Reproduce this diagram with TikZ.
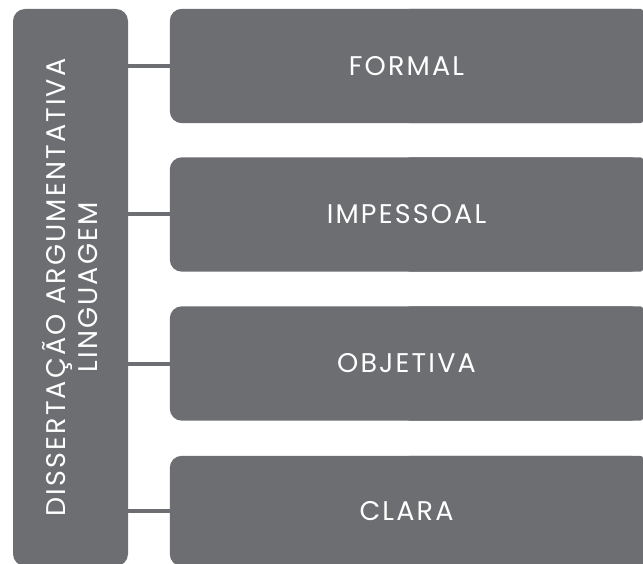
\documentclass[tikz,border=0pt]{standalone}
\usepackage{fontspec}
\setmainfont{Poppins}[LetterSpace=8]
\usepackage{tikz}
\usetikzlibrary{backgrounds}
\definecolor{boxgray}{HTML}{6D6E71}
\tikzstyle{lbox} = [fill=boxgray, rounded corners=12pt, inner sep=0pt, text=white, align=center, font=\fontsize{27}{32}\selectfont]
\tikzstyle{rbox} = [minimum width=473pt, inner sep=0pt, text=white, font=\fontsize{27}{32}\selectfont]
\tikzstyle{conn} = [boxgray, line width=4pt]

\begin{document}
\begin{tikzpicture}[x=1pt,y=-1pt]
			\useasboundingbox (0,0) rectangle (643,564);
			\clip (0,0) rectangle (643,564);
			% left column, turned on its side
			\node[lbox, minimum width=557pt, minimum height=115pt, rotate=90] (ling) at (70.5,287.5) {DISSERTAÇÃO ARGUMENTATIVA\\LINGUAGEM};
			% right column
			\node[rbox, minimum height=114pt] (formal) at (406.5,66) {FORMAL};
			\node[rbox, minimum height=114pt] (impessoal) at (406.5,214.5) {IMPESSOAL};
			\node[rbox, minimum height=114pt] (objetiva) at (406.5,363.5) {OBJETIVA};
			\node[rbox, minimum height=110pt] (clara) at (406.5,511) {CLARA};
			\begin{pgfonlayer}{background}
				\fill[boxgray, rounded corners=12pt] (formal.south west) rectangle (formal.north east);
				\fill[boxgray, rounded corners=3pt] (formal.south) rectangle (formal.north east);
				\fill[boxgray, rounded corners=12pt] (impessoal.south west) rectangle (impessoal.north east);
				\fill[boxgray, rounded corners=3pt] (impessoal.south) rectangle (impessoal.north east);
				\fill[boxgray, rounded corners=12pt] (objetiva.south west) rectangle (objetiva.north east);
				\fill[boxgray, rounded corners=3pt] (objetiva.south) rectangle (objetiva.north east);
				\fill[boxgray, rounded corners=12pt] (clara.south west) rectangle (clara.north east);
				\fill[boxgray, rounded corners=3pt] (clara.south) rectangle (clara.north east);
			\end{pgfonlayer}
			% connectors (ling.south is the right side once rotated)
			\draw[conn] (ling.south |- formal) -- (formal.west);
			\draw[conn] (ling.south |- impessoal) -- (impessoal.west);
			\draw[conn] (ling.south |- objetiva) -- (objetiva.west);
			\draw[conn] (ling.south |- clara) -- (clara.west);
		\end{tikzpicture}
\end{document}
